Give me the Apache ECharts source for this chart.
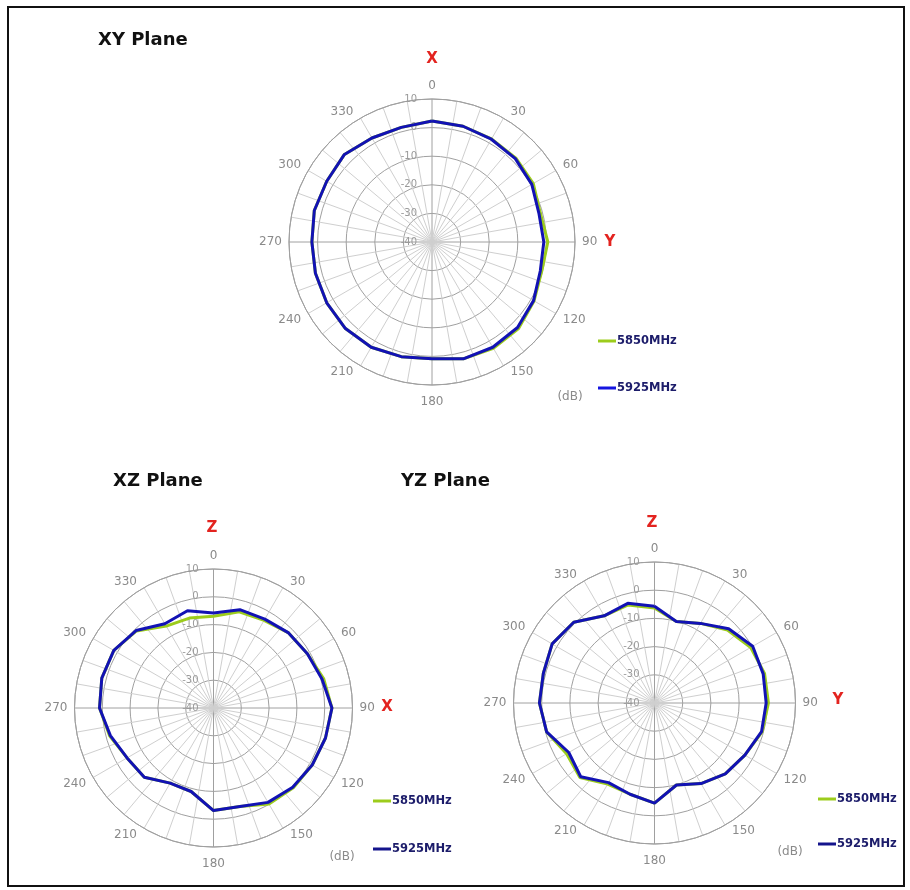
<!DOCTYPE html>
<html>
<head>
<meta charset="utf-8">
<title>Antenna radiation patterns</title>
<script src="https://cdn.jsdelivr.net/npm/echarts@6/dist/echarts.min.js"></script>
<style>
  html, body { margin: 0; padding: 0; background: #fff; }
  #chart { width: 910px; height: 890px; }
</style>
</head>
<body>
<div id="chart"></div>
<script>
// Measurement angles (degrees, clockwise from the top axis)
const angles = [0, 15, 30, 45, 60, 75, 90, 105, 120, 135, 150, 165,
                180, 195, 210, 225, 240, 255, 270, 285, 300, 315, 330, 345];

// Gain in dB for each plane and frequency
const xy5850 = [2.3, 1.9, 1.6, 1.5, 0.9, -0.8, 0.5, -0.3, 1.2, 2.8, 2.9, 2.3,
                0.8, 1.5, 2.5, 2.8, 2.5, 2.2, 2.0, 2.6, 2.5, 3.3, 2.0, 1.5];
const xy5925 = [2.3, 1.9, 1.5, 1.2, 0.3, -1.3, -0.9, -0.8, 1.0, 2.3, 2.5, 2.3,
                0.8, 1.5, 2.5, 2.8, 2.5, 2.2, 2.0, 2.6, 2.5, 3.3, 2.0, 1.5];

const xz5850 = [-7.0, -4.2, -3.6, -1.8, -1.0, 1.0, 2.6, 1.7, 1.0, 0.6, -0.1, -3.3,
                -3.1, -8.9, -8.8, -4.8, -4.1, -1.3, 1.0, 1.6, 1.4, -0.8, -6.0, -6.5];
const xz5925 = [-5.8, -3.4, -3.1, -1.8, -1.0, 0.4, 2.6, 1.7, 1.0, 0.3, -0.8, -3.3,
                -3.1, -8.9, -8.8, -4.8, -4.1, -1.6, 1.0, 1.6, 1.4, -0.6, -5.0, -3.8];

const yz5850 = [-6.3, -10.1, -7.4, -3.4, -0.6, 0.4, 0.4, -0.5, -3.0, -4.5, -7.0, -9.9,
                -4.5, -6.5, -6.8, -2.6, -4.0, -0.4, 0.8, 0.8, 1.9, 0.5, -4.3, -4.0];
const yz5925 = [-5.7, -10.1, -7.4, -2.8, 0.2, -0.1, -0.4, -0.7, -3.0, -4.5, -7.0, -9.9,
                -4.5, -6.5, -7.4, -3.0, -4.9, -0.4, 0.8, 0.8, 1.9, 0.5, -4.3, -3.4];

// Radial scale (dB) and angular label step
const radiusMin = -40, radiusMax = 10, radiusStep = 10;
const angleLabelStep = 30;

const freqNames = ['5850MHz', '5925MHz'];
const green = '#9ccc1c';
const blue = '#1212b4';

const font = 'DejaVu Sans';
const gridGrey = '#a0a0a0';
const spokeGrey = '#cfcfcf';
const labelGrey = '#8a8a8a';

// One polar panel per plane
const panels = [
  { center: [432, 242], radius: 143, data: [xy5850, xy5925] },
  { center: [213.5, 708], radius: 139, data: [xz5850, xz5925] },
  { center: [654.5, 703], radius: 141, data: [yz5850, yz5925] }
];

function closed(vals) {
  const pts = angles.map((a, i) => [vals[i], a]);
  pts.push([vals[0], 360]);
  return pts;
}

// Angle labels sit close to the rim; rich padding nudges them outward
const angleRich = {
  top:   { color: labelGrey, fontSize: 12, fontFamily: font, padding: [0, 0, 7, 0] },
  bot:   { color: labelGrey, fontSize: 12, fontFamily: font, padding: [11, 0, 0, 0] },
  right: { color: labelGrey, fontSize: 12, fontFamily: font, padding: [0, 0, 0, 7] },
  left:  { color: labelGrey, fontSize: 12, fontFamily: font, padding: [0, 7, 0, 0] }
};
function angleLabel(v) {
  if (v % angleLabelStep !== 0 || v >= 360) return '';
  const key = v === 0 ? 'top' : v === 180 ? 'bot' : v < 180 ? 'right' : 'left';
  return '{' + key + '|' + v + '}';
}

const polar = [], angleAxis = [], radiusAxis = [], series = [];
panels.forEach((p, k) => {
  polar.push({ center: p.center, radius: p.radius });
  angleAxis.push({
    polarIndex: k, type: 'value', min: 0, max: 360, interval: 10,
    startAngle: 90, clockwise: true, z: 1,
    axisLine: { lineStyle: { color: gridGrey, width: 1 } },
    axisTick: { show: false },
    axisLabel: { margin: 0, color: labelGrey, fontSize: 12, fontFamily: font, formatter: angleLabel, rich: angleRich },
    splitLine: { lineStyle: { width: 1,
      color: [gridGrey, spokeGrey, spokeGrey, spokeGrey, spokeGrey, spokeGrey, spokeGrey, spokeGrey, spokeGrey] } }
  });
  radiusAxis.push({
    polarIndex: k, type: 'value', min: radiusMin, max: radiusMax, interval: radiusStep, z: 1,
    axisLine: { show: false },
    axisTick: { show: false },
    axisLabel: { color: '#9a9a9a', fontSize: 10, fontFamily: font, margin: 15 },
    splitLine: { lineStyle: { color: gridGrey, width: 1 } }
  });
  [green, blue].forEach((c, j) => {
    series.push({
      name: freqNames[j], type: 'line', coordinateSystem: 'polar', polarIndex: k,
      data: closed(p.data[j]), symbol: 'none', smooth: false, z: 3 + j,
      lineStyle: { color: c, width: 3 }, itemStyle: { color: c }
    });
  });
});

function legendAt(left, top, gap, blueShade) {
  return {
    left: left, top: top, orient: 'vertical', itemGap: gap, padding: 0,
    icon: 'rect', itemWidth: 18, itemHeight: 3,
    selectedMode: false,
    textStyle: { color: '#1c1c6a', fontWeight: 'bold', fontSize: 11.5, fontFamily: font, padding: [0, 0, 0, -4] },
    data: [
      { name: freqNames[0], itemStyle: { color: green } },
      { name: freqNames[1], itemStyle: { color: blueShade } }
    ]
  };
}

function label(text, x, y, style) {
  return { type: 'text', x: x, y: y, style: Object.assign({ text: text, align: 'center', verticalAlign: 'middle', font: '12px "DejaVu Sans"', fill: labelGrey }, style) };
}
const red = { font: 'bold 15px "DejaVu Sans"', fill: '#e3231f' };
const titleStyle = { fontSize: 18, fontWeight: 'bold', color: '#111', fontFamily: font };

const option = {
  animation: false,
  backgroundColor: '#ffffff',
  textStyle: { fontFamily: font },
  title: [
    { text: 'XY Plane', left: 93, top: 26, textStyle: titleStyle },
    { text: 'XZ Plane', left: 108, top: 467, textStyle: titleStyle },
    { text: 'YZ Plane', left: 396, top: 467, textStyle: titleStyle }
  ],
  legend: [
    legendAt(598, 335, 35, '#1515e0'),
    legendAt(373, 795, 36, '#14148c'),
    legendAt(818, 793, 33, '#14148c')
  ],
  polar: polar,
  angleAxis: angleAxis,
  radiusAxis: radiusAxis,
  series: series,
  graphic: [
    { type: 'rect', shape: { x: 8, y: 7, width: 896, height: 879 }, style: { fill: 'none', stroke: '#111', lineWidth: 2 }, silent: true },
    label('X', 432, 59, red),
    label('Y', 610, 242, red),
    label('(dB)', 570, 397),
    label('Z', 212, 528, red),
    label('X', 387, 707, red),
    label('(dB)', 342, 857),
    label('Z', 652, 523, red),
    label('Y', 838, 700, red),
    label('(dB)', 790, 852)
  ]
};

const chart = echarts.init(document.getElementById('chart'), null, { renderer: 'canvas' });
chart.setOption(option);
</script>
</body>
</html>
